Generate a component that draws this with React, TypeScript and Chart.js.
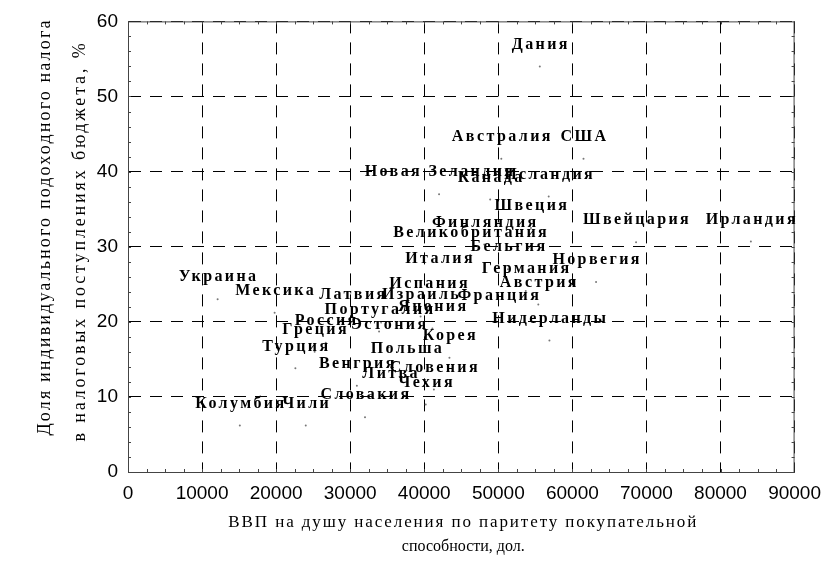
import React, { useEffect, useRef } from 'react';
import { Chart, registerables } from 'chart.js';

Chart.register(...registerables);

const countries = [
  'Дания', 'Австралия', 'США', 'Новая Зеландия', 'Канада', 'Исландия', 'Швеция',
  'Финляндия', 'Великобритания', 'Бельгия', 'Италия', 'Норвегия', 'Германия',
  'Украина', 'Испания', 'Австрия', 'Мексика', 'Латвия', 'Израиль', 'Франция',
  'Португалия', 'Япония', 'Россия', 'Эстония', 'Нидерланды', 'Греция', 'Корея',
  'Турция', 'Польша', 'Венгрия', 'Словения', 'Литва', 'Чехия', 'Словакия',
  'Колумбия', 'Чили', 'Швейцария', 'Ирландия',
];

const gdpPerCapita = [
  55600, 50400, 61500, 42000, 48900, 56800, 54400,
  48100, 46200, 51300, 42000, 63200, 53700,
  12100, 40600, 55400, 19800, 30300, 39500, 50000,
  33900, 41100, 26700, 35200, 56900, 25200, 43400,
  22600, 37600, 30900, 41300, 35400, 40200, 32000,
  15100, 24000, 68600, 84100,
];

const pitShare = [
  54.0, 41.7, 41.7, 37.0, 36.3, 36.7, 32.5,
  30.3, 28.9, 27.0, 25.4, 25.3, 24.1,
  23.0, 22.1, 22.3, 21.2, 20.7, 20.7, 20.5,
  18.7, 19.1, 17.2, 16.6, 17.5, 16.0, 15.2,
  13.8, 13.5, 11.5, 11.0, 10.2, 9.0, 7.3,
  6.2, 6.2, 30.6, 30.7,
];

const xRange = [0, 90000];
const xStep = 10000;
const xMinorStep = 2500;
const yRange = [0, 60];
const yStep = 10;
const yMinorStep = 2;

const xTitleLines = ['ВВП на душу населения по паритету покупательной', 'способности, дол.'];
const yTitleLines = ['Доля индивидуального подоходного налога', 'в налоговых поступлениях бюджета, %'];

const TICK_FONT = '"Liberation Sans Narrow", "Liberation Sans", Arial, sans-serif';
const SERIF = '"Liberation Serif", "Times New Roman", serif';

function fitText(ctx: CanvasRenderingContext2D, text: string, span: number) {
  (ctx as any).letterSpacing = '0px';
  const w = ctx.measureText(text).width;
  const n = Math.max(text.length - 1, 1);
  const sp = Math.max((span - w) / n, 0);
  (ctx as any).letterSpacing = sp.toFixed(2) + 'px';
  return sp;
}

const framePlugin = {
  id: 'frame',
  beforeDatasetsDraw(chart: any) {
    const { ctx, chartArea, scales } = chart;
    const { left, right, top, bottom } = chartArea;
    const x = scales.x;
    const y = scales.y;
    ctx.save();
    ctx.setLineDash([]);
    ctx.strokeStyle = '#444';
    ctx.lineWidth = 1;
    ctx.beginPath();
    ctx.moveTo(left, top + 0.5);
    ctx.lineTo(right, top + 0.5);
    ctx.moveTo(right - 0.5, top);
    ctx.lineTo(right - 0.5, bottom);
    ctx.stroke();
    ctx.beginPath();
    for (let v = xRange[0] + xMinorStep; v < xRange[1]; v += xMinorStep) {
      const px = Math.round(x.getPixelForValue(v)) + 0.5;
      ctx.moveTo(px, bottom);
      ctx.lineTo(px, bottom - 3);
      ctx.moveTo(px, top);
      ctx.lineTo(px, top + 3);
    }
    for (let v = yRange[0] + yMinorStep; v < yRange[1]; v += yMinorStep) {
      const py = Math.round(y.getPixelForValue(v)) + 0.5;
      ctx.moveTo(left, py);
      ctx.lineTo(left + 3, py);
      ctx.moveTo(right, py);
      ctx.lineTo(right - 3, py);
    }
    ctx.stroke();
    ctx.restore();
  },
};

const labelPlugin = {
  id: 'countryLabels',
  afterDatasetsDraw(chart: any) {
    const ctx = chart.ctx;
    const meta = chart.getDatasetMeta(0);
    ctx.save();
    ctx.font = 'bold 16px ' + SERIF;
    (ctx as any).letterSpacing = '2.4px';
    ctx.fillStyle = '#000';
    ctx.textAlign = 'center';
    ctx.textBaseline = 'middle';
    meta.data.forEach((pt: any, i: number) => {
      ctx.fillText(countries[i], pt.x + 1, pt.y - 22);
    });
    (ctx as any).letterSpacing = '0px';
    ctx.restore();
  },
};

const titlePlugin = {
  id: 'axisTitles',
  afterDraw(chart: any) {
    const { ctx, chartArea } = chart;
    const cx = (chartArea.left + chartArea.right) / 2;
    ctx.save();
    ctx.fillStyle = '#000';
    ctx.textAlign = 'center';
    ctx.textBaseline = 'middle';
    // x title
    ctx.font = '17px ' + SERIF;
    fitText(ctx, xTitleLines[0], 468);
    ctx.fillText(xTitleLines[0], cx + 2, 523);
    ctx.font = '16px ' + SERIF;
    fitText(ctx, xTitleLines[1], 122);
    ctx.fillText(xTitleLines[1], cx + 2, 547);
    // y title
    ctx.font = '18px ' + SERIF;
    ctx.save();
    ctx.translate(45, 227);
    ctx.rotate(-Math.PI / 2);
    fitText(ctx, yTitleLines[0], 415);
    ctx.fillText(yTitleLines[0], 0, 0);
    ctx.restore();
    ctx.save();
    ctx.translate(80, 241);
    ctx.rotate(-Math.PI / 2);
    fitText(ctx, yTitleLines[1], 398);
    ctx.fillText(yTitleLines[1], 0, 0);
    ctx.restore();
    (ctx as any).letterSpacing = '0px';
    ctx.restore();
  },
};

export default function App() {
  const ref = useRef<HTMLCanvasElement | null>(null);

  useEffect(() => {
    if (!ref.current) return;
    const data = gdpPerCapita.map((g, i) => ({ x: g, y: pitShare[i] }));
    const chart = new Chart(ref.current, {
      type: 'scatter',
      data: {
        datasets: [
          {
            data,
            pointRadius: 1,
            pointHoverRadius: 1,
            pointBackgroundColor: '#777',
            pointBorderWidth: 0,
          },
        ],
      },
      options: {
        animation: false,
        responsive: false,
        devicePixelRatio: 1,
        events: [],
        layout: { padding: { top: 19, right: 31, left: 0, bottom: 0 } },
        plugins: {
          legend: { display: false },
          tooltip: { enabled: false },
        },
        scales: {
          x: {
            type: 'linear',
            min: xRange[0],
            max: xRange[1],
            afterFit: (s: any) => { s.height = 110; },
            ticks: {
              stepSize: xStep,
              autoSkip: false,
              maxRotation: 0,
              padding: 10,
              color: '#000',
              font: { family: TICK_FONT, size: 19 },
              callback: (v: any) => String(v),
            },
            grid: { color: '#000', lineWidth: 1, drawTicks: false },
            border: { display: true, color: '#444', width: 1, dash: [12, 9] },
          },
          y: {
            type: 'linear',
            min: yRange[0],
            max: yRange[1],
            afterFit: (s: any) => { s.width = 128; },
            ticks: {
              stepSize: yStep,
              autoSkip: false,
              padding: 10,
              color: '#000',
              font: { family: TICK_FONT, size: 19 },
              callback: (v: any) => String(v),
            },
            grid: { color: '#000', lineWidth: 1, drawTicks: false },
            border: { display: true, color: '#444', width: 1, dash: [12, 9] },
          },
        },
      },
      plugins: [framePlugin, labelPlugin, titlePlugin],
    });
    return () => chart.destroy();
  }, []);

  return (
    <div style={{ position: 'absolute', left: 0, top: 0, width: 831, height: 582, background: '#fff' }}>
      <canvas ref={ref} width={831} height={582} style={{ width: 831, height: 582, display: 'block' }} />
    </div>
  );
}
